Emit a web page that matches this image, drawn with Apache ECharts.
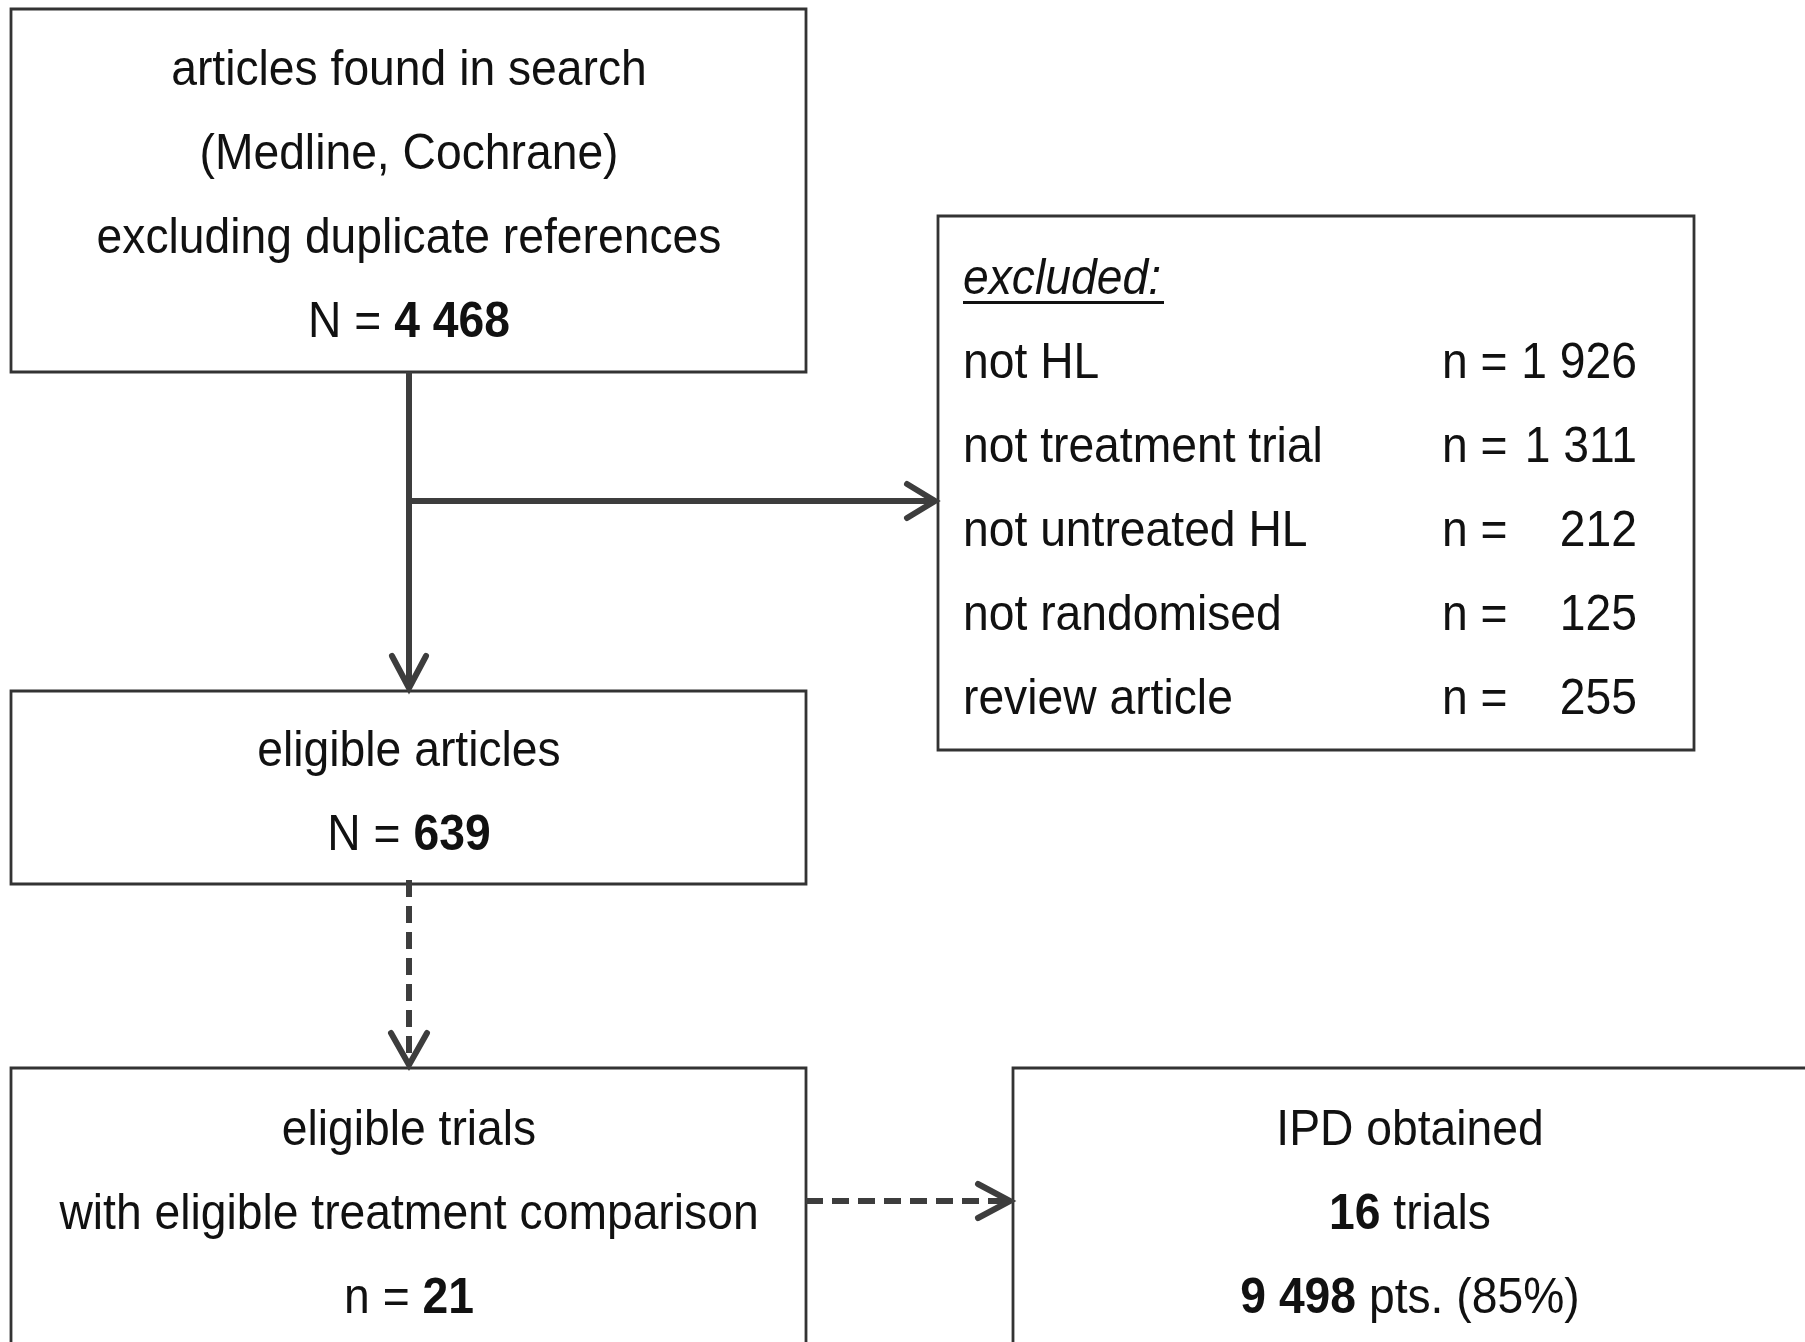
<!DOCTYPE html>
<html><head><meta charset="utf-8">
<script src="https://cdn.jsdelivr.net/npm/echarts@6/dist/echarts.min.js"></script>
<style>html,body{margin:0;padding:0;background:#fff}#c{width:1805px;height:1342px}</style>
</head><body><div id="c"></div>
<script>
// ---- data ----
const searchLines = ['articles found in search', '(Medline, Cochrane)', 'excluding duplicate references'];
const searchTotal = '4 468';
const eligibleArticlesLabel = 'eligible articles';
const eligibleArticlesN = '639';
const trialsLines = ['eligible trials', 'with eligible treatment comparison'];
const trialsN = '21';
const ipdLabel = 'IPD obtained';
const ipdTrials = '16';
const ipdPatients = '9 498';
const ipdPercent = '(85%)';
const exclusionTitle = 'excluded:';
const exclusionReasons = ['not HL', 'not treatment trial', 'not untreated HL', 'not randomised', 'review article'];
const exclusionCounts = ['1 926', '1 311', '212', '125', '255'];

// ---- drawing ----
const FF = '"Liberation Sans", Arial, Helvetica, sans-serif';
const FS = 50, SX = 0.925, INK = '#111', LINE = '#3d3d3d', BORDER = '#333';
const LH = 84, DY = 3.5;

function txt(x, y, text, align, extra) {
  return {
    type: 'text', x: x, y: y + DY, scaleX: SX,
    style: Object.assign({
      x: 0, y: 0, text: text, fontSize: FS, fontFamily: FF, fill: INK,
      align: align || 'center', verticalAlign: 'middle',
      textAlign: align || 'center', textVerticalAlign: 'middle',
      rich: { b: { fontSize: FS, fontFamily: FF, fontWeight: 'bold', fill: INK } }
    }, extra || {})
  };
}
function box(x, y, w, h) {
  return { type: 'rect', shape: { x: x, y: y, width: w, height: h },
           style: { fill: '#fff', stroke: BORDER, lineWidth: 2.8 } };
}
function seg(x1, y1, x2, y2, dashed) {
  return { type: 'line', shape: { x1: x1, y1: y1, x2: x2, y2: y2 },
           style: { stroke: LINE, lineWidth: 6, lineDash: dashed ? [17, 9] : null } };
}
function head(pts) {
  return { type: 'polyline', shape: { points: pts },
           style: { stroke: LINE, lineWidth: 6, fill: null, lineJoin: 'miter', lineCap: 'round' } };
}

const els = [];
// boxes
els.push(box(11, 9, 795, 363));
els.push(box(938, 216, 756, 534));
els.push(box(11, 691, 795, 193));
els.push(box(11, 1068, 795, 300));
els.push(box(1013, 1068, 820, 300));

// arrows
els.push(seg(409, 372, 409, 684, false));
els.push(head([[392, 656], [409, 688], [426, 656]]));
els.push(seg(409, 501, 932, 501, false));
els.push(head([[907, 484], [935, 501], [907, 518]]));
els.push(seg(409, 880, 409, 1060, true));
els.push(head([[391, 1033], [409, 1065], [427, 1033]]));
els.push(seg(806, 1201, 1006, 1201, true));
els.push(head([[978, 1184], [1010, 1201], [978, 1218]]));

// box 1 text
const c1 = 409;
searchLines.forEach(function (s, i) { els.push(txt(c1, 68 + i * LH, s)); });
els.push(txt(c1, 68 + 3 * LH, 'N = {b|' + searchTotal + '}'));

// box 2 text
els.push(txt(c1, 749, eligibleArticlesLabel));
els.push(txt(c1, 833, 'N = {b|' + eligibleArticlesN + '}'));

// box 3 text
trialsLines.forEach(function (s, i) { els.push(txt(c1, 1128 + i * LH, s)); });
els.push(txt(c1, 1128 + 2 * LH, 'n = {b|' + trialsN + '}'));

// box 4 text
const c4 = 1410;
els.push(txt(c4, 1128, ipdLabel));
els.push(txt(c4, 1128 + LH, '{b|' + ipdTrials + '} trials'));
els.push(txt(c4, 1128 + 2 * LH, '{b|' + ipdPatients + '} pts. ' + ipdPercent));

// exclusion box
els.push(txt(963, 277, exclusionTitle, 'left', { fontStyle: 'italic' }));
els.push({ type: 'line', shape: { x1: 963, y1: 299 + DY, x2: 1164, y2: 299 + DY },
           style: { stroke: INK, lineWidth: 3 } });
exclusionReasons.forEach(function (r, i) {
  const y = 361 + i * LH;
  els.push(txt(963, y, r, 'left'));
  els.push(txt(1442, y, 'n =', 'left'));
  els.push(txt(1637, y, exclusionCounts[i], 'right'));
});

const chart = echarts.init(document.getElementById('c'), null, { renderer: 'canvas' });
chart.setOption({ backgroundColor: '#fff', animation: false, graphic: { elements: els } });
</script></body></html>
